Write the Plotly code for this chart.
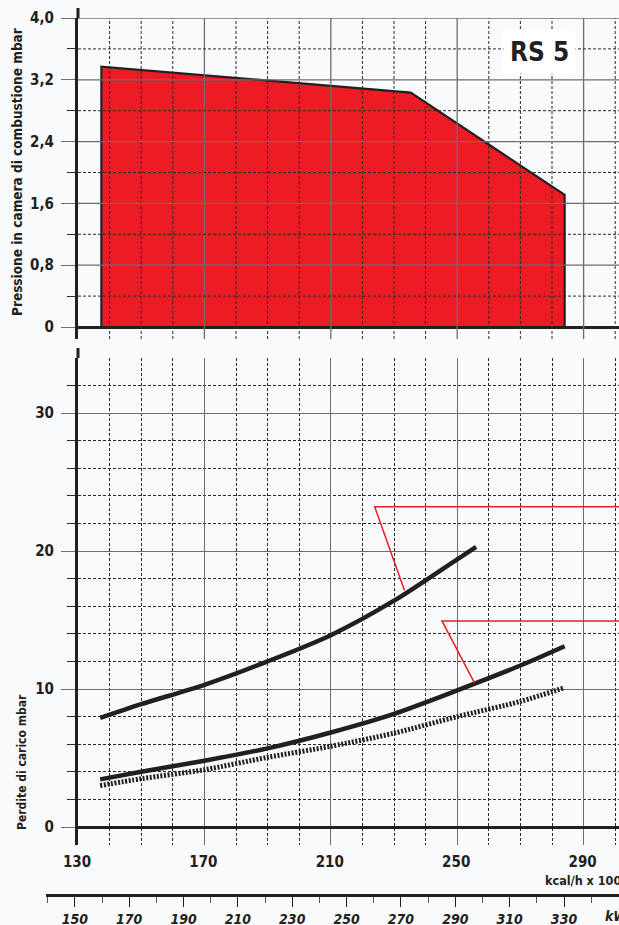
import plotly.graph_objects as go

# ---------------- data ----------------
# Top chart: working field (pressure in combustion chamber, mbar) vs kcal/h x 1000
field_kcal = [137.4, 235.3, 284.0]
field_mbar = [3.37, 3.035, 1.71]

# Bottom chart: pressure drop curves (mbar) vs kcal/h x 1000
curve_a_kcal = [137, 150, 170, 190, 210, 230, 250, 256]
curve_a_mbar = [7.9, 8.9, 10.3, 12.0, 13.9, 16.4, 19.4, 20.3]
curve_b_kcal = [137, 150, 170, 190, 210, 230, 250, 270, 284]
curve_b_mbar = [3.45, 4.0, 4.8, 5.7, 6.85, 8.2, 9.9, 11.7, 13.1]
curve_c_kcal = [137, 150, 170, 190, 210, 230, 250, 270, 284]
curve_c_mbar = [3.0, 3.5, 4.15, 5.05, 5.85, 6.8, 8.0, 9.1, 10.1]

# red leader lines (callouts)
leader_a_kcal = [233.3, 223.9, 330]
leader_a_mbar = [17.15, 23.2, 23.2]
leader_b_kcal = [255.5, 245.2, 330]
leader_b_mbar = [10.42, 14.93, 14.93]

# ticks
top_ticks = [0, 0.8, 1.6, 2.4, 3.2, 4.0]
top_tick_text = ["0", "0,8", "1,6", "2,4", "3,2", "4,0"]
top_minor = [0.4, 1.2, 2.0, 2.8, 3.6]
bot_ticks = [0, 10, 20, 30]
bot_tick_text = ["0", "10", "20", "30"]
bot_minor = [2, 4, 6, 8, 12, 14, 16, 18, 22, 24, 26, 28, 32, 34]
kcal_ticks = [130, 170, 210, 250, 290]
kcal_minor = [140, 150, 160, 180, 190, 200, 220, 230, 240, 260, 270, 280, 300]
kw_ticks = [150, 170, 190, 210, 230, 250, 270, 290, 310, 330]
KW_TO_KCAL = 0.86

# ---------------- layout constants ----------------
W, H = 619, 925
AX_PX = 78          # pixel of y-axis line (x = 130)
PPK = 3.16          # pixels per kcal unit
X_LO = 130
X_HI = X_LO + (W - AX_PX) / PPK

def px(p):
    return p / W

def py(p):
    return 1 - p / H

FONT = "Liberation Sans Narrow, DejaVu Sans Condensed, Arial Narrow, sans-serif"
INK = "#231f20"
RED = "#ed1c24"
GRID_SOLID = "#6d6d6d"
GRID_DASH = "#2a2a2a"
DASH = "3px,2px"

# top chart pixel geometry
T_ZERO, T_TOP, T_BOT = 327, 18, 339
t_ppu = (T_ZERO - T_TOP) / 4.0
t_range = [-(T_BOT - T_ZERO) / t_ppu, 4.0]
# bottom chart pixel geometry
B_ZERO, B_30, B_TOP, B_BOT = 827, 413, 358, 845
b_ppu = (B_ZERO - B_30) / 30.0
b_range = [-(B_BOT - B_ZERO) / b_ppu, (B_ZERO - B_TOP) / b_ppu]
KW_LINE = 894

fig = go.Figure()

# red working field
fig.add_trace(go.Scatter(
    x=[field_kcal[0]] + field_kcal + [field_kcal[-1], field_kcal[0]],
    y=[0] + field_mbar + [0, 0],
    fill="toself", fillcolor=RED, mode="lines",
    line=dict(color=INK, width=2.2), xaxis="x", yaxis="y",
    hoverinfo="skip", showlegend=False))

# pressure drop curves
fig.add_trace(go.Scatter(x=curve_a_kcal, y=curve_a_mbar, mode="lines",
    line=dict(color=INK, width=4.5, shape="spline", smoothing=0.8),
    xaxis="x2", yaxis="y2", showlegend=False))
fig.add_trace(go.Scatter(x=curve_b_kcal, y=curve_b_mbar, mode="lines",
    line=dict(color=INK, width=4.5, shape="spline", smoothing=0.8),
    xaxis="x2", yaxis="y2", showlegend=False))
fig.add_trace(go.Scatter(x=curve_c_kcal, y=curve_c_mbar, mode="lines",
    line=dict(color=INK, width=5, dash="2px,1.6px", shape="spline", smoothing=0.8),
    xaxis="x2", yaxis="y2", showlegend=False))

# leader lines
for lx, ly in [(leader_a_kcal, leader_a_mbar), (leader_b_kcal, leader_b_mbar)]:
    fig.add_trace(go.Scatter(x=lx, y=ly, mode="lines",
        line=dict(color=RED, width=1.5), xaxis="x2", yaxis="y2",
        hoverinfo="skip", showlegend=False))

# dummy trace to carry the kW axis
fig.add_trace(go.Scatter(x=[kw_ticks[0], kw_ticks[-1]], y=[0, 0], mode="markers",
    marker=dict(opacity=0), xaxis="x3", yaxis="y3",
    hoverinfo="skip", showlegend=False))

tick_font = dict(family=FONT, size=15, color=INK, weight=700)

common_y = dict(
    showline=True, linecolor=INK, linewidth=3,
    ticks="outside", ticklen=14, tickwidth=1.2, tickcolor=GRID_SOLID,
    zeroline=True, zerolinecolor=INK, zerolinewidth=2.6,
    tickfont=tick_font, ticklabelstandoff=4, fixedrange=True, automargin=False,
)

fig.update_layout(
    template="none",
    width=W, height=H, autosize=False,
    margin=dict(l=0, r=0, t=0, b=0, pad=0),
    paper_bgcolor="#f9fafc", plot_bgcolor="rgba(0,0,0,0)",
    showlegend=False,
    xaxis=dict(domain=[px(AX_PX), 1], range=[X_LO, X_HI], anchor="y",
               showgrid=False, zeroline=False, showticklabels=False,
               ticks="", showline=False, automargin=False, fixedrange=True),
    yaxis=dict(domain=[py(T_BOT), py(T_TOP)], range=t_range, anchor="x",
               tickmode="array", tickvals=top_ticks, ticktext=top_tick_text,
               showgrid=False,
               minor=dict(tickmode="array", tickvals=top_minor, ticks="outside",
                          ticklen=8, tickcolor=GRID_DASH, showgrid=False),
               **common_y),
    xaxis2=dict(domain=[px(AX_PX), 1], range=[X_LO, X_HI], anchor="y2",
                tickmode="array", tickvals=kcal_ticks,
                ticktext=[str(v) for v in kcal_ticks],
                ticks="", showline=False, zeroline=False,
                showgrid=True, gridcolor=GRID_SOLID, gridwidth=1.3,
                minor=dict(tickmode="array", tickvals=kcal_minor, showgrid=True,
                           gridcolor=GRID_DASH, griddash=DASH, gridwidth=1),
                tickfont=tick_font, ticklabelstandoff=6, ticklabelshift=-1,
                fixedrange=True, automargin=False),
    yaxis2=dict(domain=[py(B_BOT), py(B_TOP)], range=b_range, anchor="x2",
                tickmode="array", tickvals=bot_ticks, ticktext=bot_tick_text,
                showgrid=True, gridcolor=GRID_SOLID, gridwidth=1.3,
                minor=dict(tickmode="array", tickvals=bot_minor, ticks="outside",
                           ticklen=8, tickcolor=GRID_DASH, showgrid=True,
                           gridcolor=GRID_DASH, griddash=DASH, gridwidth=1),
                **common_y),
    xaxis3=dict(domain=[px(46), 1],
                range=[(X_LO - (AX_PX - 46) / PPK) / KW_TO_KCAL, X_HI / KW_TO_KCAL],
                anchor="y3", side="bottom",
                showline=True, linecolor=INK, linewidth=2.6,
                tickmode="array", tickvals=kw_ticks,
                ticktext=[str(v) for v in kw_ticks],
                ticks="outside", ticklen=10, tickwidth=1.2, tickcolor=INK,
                minor=dict(tickmode="linear", tick0=140, dtick=20, ticks="outside",
                           ticklen=6, tickcolor="#555", tickwidth=1),
                showgrid=False, zeroline=False,
                tickfont=dict(family=FONT, size=14, color=INK, weight=700,
                              style="italic"),
                ticklabelshift=0, ticklabelstandoff=0, fixedrange=True,
                automargin=False),
    yaxis3=dict(domain=[py(KW_LINE), py(KW_LINE - 2)], range=[0, 1], anchor="x3",
                visible=False, fixedrange=True, automargin=False),
)

shapes = []
# top chart gridlines drawn above the red field
for v in kcal_ticks[1:]:
    shapes.append(dict(type="line", xref="x", yref="y domain", x0=v, x1=v, y0=0, y1=1,
                       line=dict(color=GRID_SOLID, width=1.3), layer="above"))
for v in kcal_minor:
    shapes.append(dict(type="line", xref="x", yref="y domain", x0=v, x1=v, y0=0, y1=1,
                       line=dict(color=GRID_DASH, width=1, dash=DASH), layer="above"))
for v in top_ticks[1:]:
    shapes.append(dict(type="line", xref="x domain", yref="y", x0=0, x1=1, y0=v, y1=v,
                       line=dict(color=GRID_SOLID, width=1.3), layer="above"))
for v in top_minor:
    shapes.append(dict(type="line", xref="x domain", yref="y", x0=0, x1=1, y0=v, y1=v,
                       line=dict(color=GRID_DASH, width=1, dash=DASH), layer="above"))
# axis line stubs above the plotting areas
for top_px in (T_TOP, B_TOP):
    shapes.append(dict(type="line", xref="paper", yref="paper",
                       x0=px(AX_PX), x1=px(AX_PX), y0=py(top_px), y1=py(top_px - 10),
                       line=dict(color=INK, width=3)))
fig.update_layout(shapes=shapes)

ann_font = dict(family=FONT, color=INK, weight=700)
fig.add_annotation(text="RS 5", xref="paper", yref="paper", x=px(539), y=py(52),
                   xanchor="center", yanchor="middle",
                   showarrow=False, bgcolor="#ffffff", borderpad=6,
                   font=dict(size=26, **ann_font))
fig.add_annotation(text="Pressione in camera di combustione mbar", textangle=-90,
                   xref="paper", yref="paper", x=px(17), y=py(172),
                   xanchor="center", yanchor="middle",
                   showarrow=False, font=dict(size=13.5, **ann_font))
fig.add_annotation(text="Perdite di carico mbar", textangle=-90,
                   xref="paper", yref="paper", x=px(22), y=py(762),
                   xanchor="center", yanchor="middle",
                   showarrow=False, font=dict(size=12, **ann_font))
fig.add_annotation(text="kcal/h x 1000", xref="paper", yref="paper",
                   x=px(543), y=py(880), xanchor="left", yanchor="middle",
                   showarrow=False, font=dict(size=12.5, **ann_font))
fig.add_annotation(text="kW", xref="paper", yref="paper",
                   x=px(603), y=py(916), xanchor="left", yanchor="middle",
                   showarrow=False, font=dict(size=14, style="italic", **ann_font))

fig.write_html("out.html", config={"displayModeBar": False},
               post_script="document.body.style.margin='0';")
